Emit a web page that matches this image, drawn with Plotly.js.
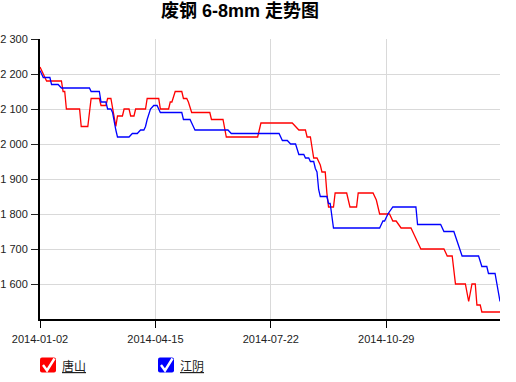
<!DOCTYPE html>
<html>
<head>
<meta charset="utf-8">
<script src="https://cdn.plot.ly/plotly-3.0.1.min.js"></script>
<style>html,body{margin:0;padding:0;background:#fff;}#chart{width:516px;height:382px;}</style>
</head>
<body>
<div id="chart"></div>
<script>
// Trading-day index positions (category-style axis) and prices
var tsX = [0,2,4,13,14,15,16,24,25,29,31,36,37,40,41,43,44,46,47,50,51,54,55,57,58,64,65,72,73,78,79,80,82,86,87,89,90,92,103,104,111,113,132,134,153,155,157,161,162,164,166,168,170,171,173,174,175,178,179,186,188,192,193,202,204,206,212,214,216,219,225,227,231,245,247,250,252,258,260,262,264,265,267,268,279];
var tsY = [2220,2200,2180,2180,2150,2150,2100,2100,2050,2050,2130,2130,2110,2110,2130,2130,2100,2050,2080,2080,2100,2100,2080,2080,2100,2100,2130,2130,2100,2100,2120,2120,2150,2150,2130,2130,2120,2090,2090,2070,2070,2020,2020,2060,2060,2050,2040,2040,2020,2020,1960,1960,1940,1920,1920,1860,1820,1820,1860,1860,1820,1820,1860,1860,1840,1800,1800,1780,1780,1760,1760,1740,1700,1700,1680,1680,1600,1600,1550,1600,1600,1540,1540,1520,1520];

var jyX = [0,2,6,7,11,13,30,31,36,37,40,41,43,44,46,47,54,56,59,61,63,64,65,67,69,71,73,86,87,91,93,94,114,116,145,147,150,152,155,157,160,161,163,164,166,167,168,169,170,174,175,176,178,206,208,209,211,214,228,229,243,245,251,253,256,266,268,271,272,276,278,279];
var jyY = [2210,2190,2190,2170,2170,2160,2160,2150,2150,2120,2120,2100,2100,2090,2040,2020,2020,2030,2030,2040,2040,2050,2070,2100,2110,2110,2090,2090,2070,2070,2050,2040,2040,2030,2030,2010,2010,2000,2000,1970,1970,1960,1960,1950,1950,1930,1920,1870,1850,1850,1830,1830,1760,1760,1780,1780,1800,1820,1820,1770,1770,1750,1750,1720,1680,1680,1650,1650,1630,1630,1570,1550];

var xTickVals = [0, 70, 140, 210];
var xTickText = ['2014-01-02', '2014-04-15', '2014-07-22', '2014-10-29'];
var yTickVals = [1600, 1700, 1800, 1900, 2000, 2100, 2200, 2300];
var yTickText = ['1 600', '1 700', '1 800', '1 900', '2 000', '2 100', '2 200', '2 300'];
var seriesNames = ['唐山', '江阴'];
var seriesColors = ['#ff0000', '#0000ff'];
var titleText = '废钢 6-8mm 走势图';

var traces = [
  {x: tsX, y: tsY, name: seriesNames[0], type: 'scatter', mode: 'lines',
   line: {color: seriesColors[0], width: 1.3}, hoverinfo: 'skip'},
  {x: jyX, y: jyY, name: seriesNames[1], type: 'scatter', mode: 'lines',
   line: {color: seriesColors[1], width: 1.3}, hoverinfo: 'skip'}
];

var W = 516, H = 382, ML = 40, MR = 16, MT = 39, MB = 63;
var PW = W - ML - MR, PH = H - MT - MB;
function px2x(px) { return (px - ML) / PW; }
function py2y(py) { return (H - MB - py) / PH; }

var legY = py2y(365);
var boxPath = 'M2,-7.5 H14 Q16,-7.5 16,-5.5 V5.5 Q16,7.5 14,7.5 H2 Q0,7.5 0,5.5 V-5.5 Q0,-7.5 2,-7.5 Z';
var checkPath = 'M3,0 L7,-5.5 L14.5,6.5';
var legBoxPx = [40, 158];
var legTextPx = [60, 178];

var shapes = [];
var annotations = [];
for (var i = 0; i < 2; i++) {
  shapes.push({type: 'path', xref: 'paper', yref: 'paper', xsizemode: 'pixel', ysizemode: 'pixel',
    xanchor: px2x(legBoxPx[i]), yanchor: legY, path: boxPath,
    fillcolor: seriesColors[i], line: {width: 0}});
  shapes.push({type: 'path', xref: 'paper', yref: 'paper', xsizemode: 'pixel', ysizemode: 'pixel',
    xanchor: px2x(legBoxPx[i]), yanchor: legY, path: checkPath,
    line: {color: '#ffffff', width: 2.4}});
  annotations.push({xref: 'paper', yref: 'paper', x: px2x(legTextPx[i]), y: legY,
    xanchor: 'left', yanchor: 'middle', showarrow: false,
    text: '<u>' + seriesNames[i] + '</u>',
    font: {family: '"Noto Sans CJK SC", sans-serif', size: 12, color: '#222'}});
}

var layout = {
  width: W, height: H,
  margin: {l: ML, r: MR, t: MT, b: MB, pad: 0},
  paper_bgcolor: '#ffffff', plot_bgcolor: '#ffffff',
  showlegend: false,
  font: {family: '"Liberation Sans", Arial, "Noto Sans CJK SC", sans-serif', size: 11, color: '#222'},
  title: {text: '<b>' + titleText + '</b>', xref: 'container', yref: 'container',
    x: 240 / W, xanchor: 'center', y: 1 - 11 / H, yanchor: 'middle',
    font: {family: '"Liberation Sans", Arial, "Noto Sans CJK SC", sans-serif', size: 18, color: '#000'}},
  xaxis: {
    range: [0, 279], tickvals: xTickVals, ticktext: xTickText,
    showgrid: true, gridcolor: '#d9d9d9', gridwidth: 1,
    showline: true, linecolor: '#000', linewidth: 2,
    ticks: 'outside', ticklen: 7, tickcolor: '#000', tickwidth: 1,
    ticklabelstandoff: 2,
    zeroline: false, fixedrange: true,
    tickfont: {size: 11, color: '#222'}
  },
  yaxis: {
    range: [1500, 2300], tickvals: yTickVals, ticktext: yTickText,
    showgrid: true, gridcolor: '#d9d9d9', gridwidth: 1,
    showline: true, linecolor: '#000', linewidth: 2,
    ticks: 'outside', ticklen: 7, tickcolor: '#222', tickwidth: 1,
    ticklabelstandoff: 1,
    zeroline: false, fixedrange: true,
    tickfont: {size: 11, color: '#222'}
  },
  shapes: shapes,
  annotations: annotations
};

Plotly.newPlot('chart', traces, layout, {staticPlot: true, displayModeBar: false});
</script>
</body>
</html>
